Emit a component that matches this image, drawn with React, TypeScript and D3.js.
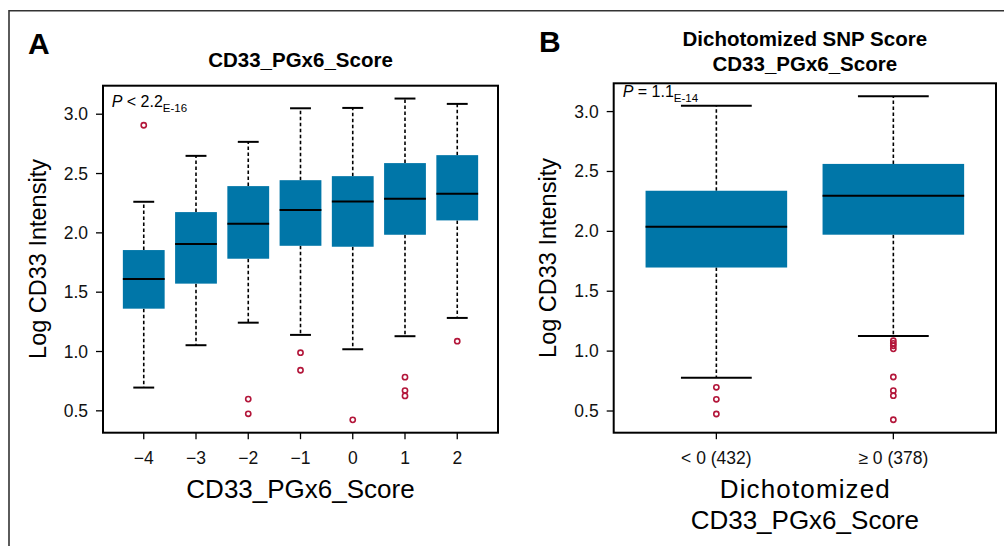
import React from 'react';
import * as d3 from 'd3';

// Panel A: CD33_PGx6_Score groups
const scoreCats = ['\u22124', '\u22123', '\u22122', '\u22121', '0', '1', '2'];
const scoreLow = [0.696, 1.053, 1.243, 1.14, 1.019, 1.129, 1.283];
const scoreQ1 = [1.361, 1.572, 1.782, 1.891, 1.883, 1.984, 2.105];
const scoreMed = [1.611, 1.906, 2.077, 2.192, 2.265, 2.287, 2.329];
const scoreQ3 = [1.855, 2.175, 2.394, 2.444, 2.478, 2.588, 2.655];
const scoreHigh = [2.262, 2.649, 2.767, 3.05, 3.053, 3.132, 3.087];
const scoreOut = [[2.907], [], [0.599, 0.475], [0.99, 0.842], [0.424], [0.784, 0.671, 0.626], [1.087]];

// Panel B: dichotomized score
const dichCats = ['< 0 (432)', '\u2265 0 (378)'];
const dichLow = [0.778, 1.127];
const dichQ1 = [1.698, 1.972];
const dichMed = [2.038, 2.298];
const dichQ3 = [2.339, 2.563];
const dichHigh = [3.048, 3.128];
const dichOut = [[0.698, 0.598, 0.475], [1.087, 1.065, 1.045, 1.019, 0.784, 0.67, 0.628, 0.427]];

const yTicks = [0.5, 1.0, 1.5, 2.0, 2.5, 3.0];

const FONT = '"Liberation Sans", Arial, Helvetica, sans-serif';
const BLUE = '#0076A8';
const RED = '#B3163A';

type PanelProps = {
  cats: string[];
  low: number[];
  q1: number[];
  med: number[];
  q3: number[];
  high: number[];
  out: number[][];
  left: number;
  right: number;
  top: number;
  bottom: number;
};

function BoxPanel(p: PanelProps) {
  const n = p.cats.length;
  // R style: 4% padding on both axes
  const allVals = [...p.low, ...p.high, ...p.out.flat()];
  const [mn, mx] = d3.extent(allVals) as [number, number];
  const pad = (mx - mn) * 0.04;
  const y = d3.scaleLinear().domain([mn - pad, mx + pad]).range([p.bottom, p.top]);
  const xpad = n * 0.04;
  const x = d3.scaleLinear().domain([0.5 - xpad, n + 0.5 + xpad]).range([p.left, p.right]);
  const bw = (x(1.8) - x(1)); // 0.8 box width
  const cap = bw / 2;

  return (
    <g>
      {p.cats.map((c, i) => {
        const cx = x(i + 1);
        return (
          <g key={c}>
            <line x1={cx} x2={cx} y1={y(p.q3[i])} y2={y(p.high[i])} stroke="#000" strokeWidth={1.6} strokeDasharray="3.5,2.5" />
            <line x1={cx} x2={cx} y1={y(p.q1[i])} y2={y(p.low[i])} stroke="#000" strokeWidth={1.6} strokeDasharray="3.5,2.5" />
            <line x1={cx - cap / 2} x2={cx + cap / 2} y1={y(p.high[i])} y2={y(p.high[i])} stroke="#000" strokeWidth={2} />
            <line x1={cx - cap / 2} x2={cx + cap / 2} y1={y(p.low[i])} y2={y(p.low[i])} stroke="#000" strokeWidth={2} />
            <rect x={cx - bw / 2} width={bw} y={y(p.q3[i])} height={y(p.q1[i]) - y(p.q3[i])} fill={BLUE} />
            <line x1={cx - bw / 2} x2={cx + bw / 2} y1={y(p.med[i])} y2={y(p.med[i])} stroke="#000" strokeWidth={2} />
            {p.out[i].map((v, j) => (
              <circle key={j} cx={cx} cy={y(v)} r={2.6} fill="none" stroke={RED} strokeWidth={1.6} />
            ))}
            <line x1={cx} x2={cx} y1={p.bottom} y2={p.bottom + 6.5} stroke="#000" strokeWidth={1.3} />
            <text x={cx} y={p.bottom + 31} textAnchor="middle" fontSize={17.5} fill="#111">{c}</text>
          </g>
        );
      })}
      {yTicks.map(t => (
        <g key={t}>
          <line x1={p.left - 7} x2={p.left} y1={y(t)} y2={y(t)} stroke="#000" strokeWidth={1.3} />
          <text x={p.left - 15} y={y(t) + 6} textAnchor="end" fontSize={17.5} fill="#111">{t.toFixed(1)}</text>
        </g>
      ))}
      <rect x={p.left} y={p.top} width={p.right - p.left} height={p.bottom - p.top} fill="none" stroke="#000" strokeWidth={2} />
    </g>
  );
}

export default function App() {
  return (
    <svg width={1004} height={546} style={{ position: 'absolute', left: 0, top: 0, background: '#fff' }} fontFamily={FONT}>
      <rect width={1004} height={546} fill="#fff" />
      <line x1={9} x2={1004} y1={10.7} y2={10.7} stroke="#333" strokeWidth={1.6} />
      <line x1={9} x2={9} y1={10} y2={546} stroke="#333" strokeWidth={1.6} />

      {/* Panel A */}
      <text x={28} y={54.3} fontSize={30} fontWeight="bold">A</text>
      <text x={300.5} y={66.7} textAnchor="middle" fontSize={20.5} fontWeight="bold">CD33_PGx6_Score</text>
      <text x={111.7} y={106.7} fontSize={16}>
        <tspan fontStyle="italic">P</tspan>
        <tspan> &lt; 2.2</tspan>
        <tspan fontSize={11.5} dy={5}>E-16</tspan>
      </text>
      <BoxPanel cats={scoreCats} low={scoreLow} q1={scoreQ1} med={scoreMed} q3={scoreQ3} high={scoreHigh} out={scoreOut}
        left={103} right={498} top={85.7} bottom={432.7} />
      <text transform="translate(46,259) rotate(-90)" textAnchor="middle" fontSize={23.5}>Log CD33 Intensity</text>
      <text x={300.5} y={498.3} textAnchor="middle" fontSize={26}>CD33_PGx6_Score</text>

      {/* Panel B */}
      <text x={539} y={52.3} fontSize={30} fontWeight="bold">B</text>
      <text x={804.8} y={45.7} textAnchor="middle" fontSize={20.5} fontWeight="bold">Dichotomized SNP Score</text>
      <text x={804.8} y={71} textAnchor="middle" fontSize={20.5} fontWeight="bold">CD33_PGx6_Score</text>
      <text x={622.7} y={96.7} fontSize={16}>
        <tspan fontStyle="italic">P</tspan>
        <tspan> = 1.1</tspan>
        <tspan fontSize={11.5} dy={5}>E-14</tspan>
      </text>
      <BoxPanel cats={dichCats} low={dichLow} q1={dichQ1} med={dichMed} q3={dichQ3} high={dichHigh} out={dichOut}
        left={613.7} right={996} top={83.3} bottom={432.7} />
      <text transform="translate(556,258) rotate(-90)" textAnchor="middle" fontSize={23.5}>Log CD33 Intensity</text>
      <text x={804.8} y={498.3} textAnchor="middle" fontSize={26} textLength={170}>Dichotomized</text>
      <text x={804.8} y={529.3} textAnchor="middle" fontSize={26}>CD33_PGx6_Score</text>
    </svg>
  );
}
